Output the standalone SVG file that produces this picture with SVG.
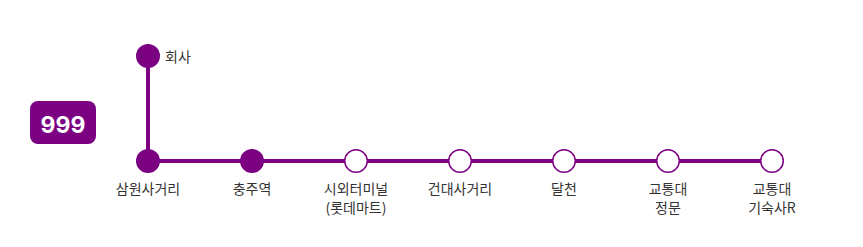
<svg xmlns="http://www.w3.org/2000/svg" width="863" height="247" viewBox="0 0 863 247">
<style>
.line{stroke:#7b0082;stroke-width:4;fill:none}
.stop-f{fill:#7b0082}
.stop-o{fill:#fff;stroke:#7b0082;stroke-width:1.5}
.lbl{font-family:"Noto Sans CJK KR","Noto Sans",sans-serif;font-size:14px;fill:#333;text-anchor:middle}
.badge{fill:#7b0082}
.badge-t{font-family:Inter,"Liberation Sans",sans-serif;font-size:23px;font-weight:700;fill:#fff;text-anchor:middle}
</style>
<rect width="863" height="247" fill="#fff"/>
<g id="route-badge">
<rect class="badge" x="30" y="101" width="66" height="43" rx="8"/>
<text class="badge-t" x="63" y="132.5">999</text>
</g>
<g id="connectors">
<line class="line" x1="148" y1="56" x2="148" y2="161"/>
<line class="line" x1="148" y1="161" x2="772" y2="161"/>
</g>
<g id="stop-hoesa">
<circle class="stop-f" cx="148" cy="56" r="12"/>
<text class="lbl" x="165" y="62" style="text-anchor:start">회사</text>
</g>
<g id="stop-samwon">
<circle class="stop-f" cx="148" cy="161" r="12"/>
<text class="lbl" x="148" y="194">삼원사거리</text>
</g>
<g id="stop-chungju">
<circle class="stop-f" cx="252" cy="161" r="12"/>
<text class="lbl" x="252" y="194">충주역</text>
</g>
<g id="stop-terminal">
<circle class="stop-o" cx="356" cy="161" r="11.25"/>
<text class="lbl" x="356" y="194">시외터미널</text>
<text class="lbl" x="356" y="213">(롯데마트)</text>
</g>
<g id="stop-konkuk">
<circle class="stop-o" cx="460" cy="161" r="11.25"/>
<text class="lbl" x="460" y="194">건대사거리</text>
</g>
<g id="stop-dalcheon">
<circle class="stop-o" cx="564" cy="161" r="11.25"/>
<text class="lbl" x="564" y="194">달천</text>
</g>
<g id="stop-gate">
<circle class="stop-o" cx="668" cy="161" r="11.25"/>
<text class="lbl" x="668" y="194">교통대</text>
<text class="lbl" x="668" y="213">정문</text>
</g>
<g id="stop-dorm">
<circle class="stop-o" cx="772" cy="161" r="11.25"/>
<text class="lbl" x="772" y="194">교통대</text>
<text class="lbl" x="772" y="213">기숙사R</text>
</g>
</svg>
